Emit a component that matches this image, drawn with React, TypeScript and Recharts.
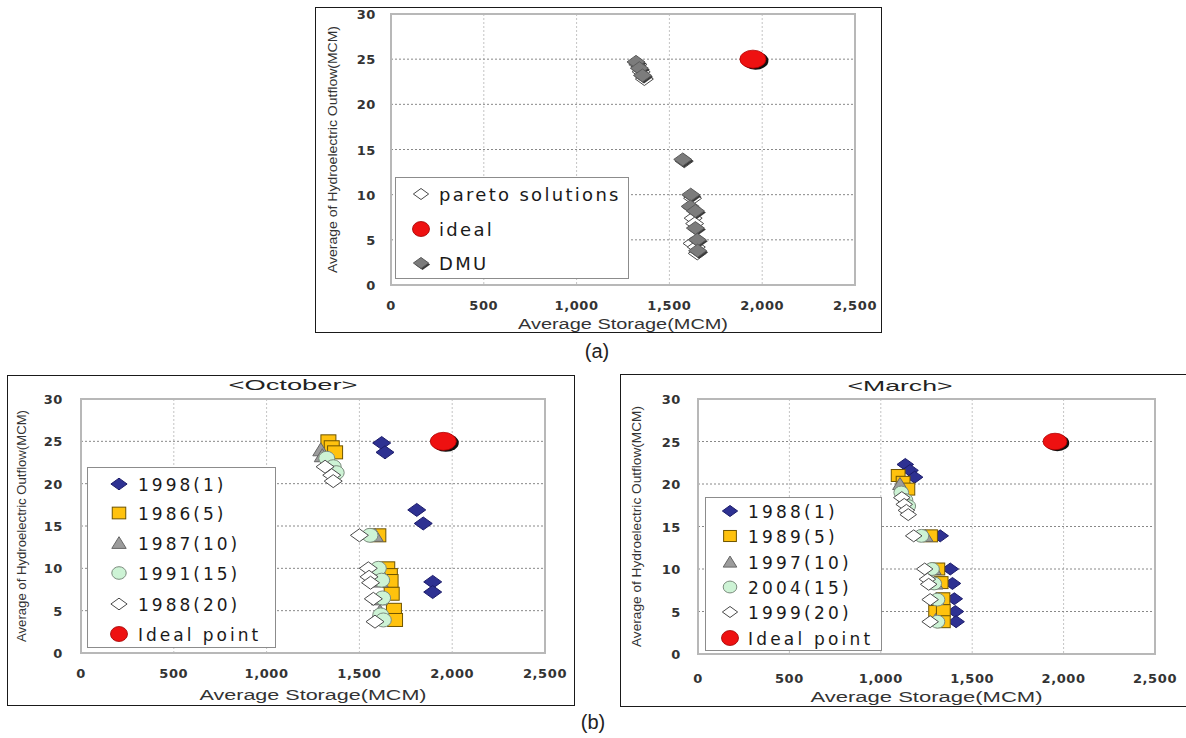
import React from 'react';
import { ScatterChart, Scatter, XAxis, YAxis, CartesianGrid, Legend, ReferenceArea, Label } from 'recharts';

// ---------- shared axis data ----------
const X_TICKS = [0, 500, 1000, 1500, 2000, 2500];
const Y_TICKS = [0, 5, 10, 15, 20, 25, 30];
const X_TITLE = 'Average Storage(MCM)';
const Y_TITLE = 'Average of Hydroelectric Outflow(MCM)';

// ---------- chart (a) ----------
const aLabels = ['pareto solutions', 'ideal', 'DMU'];
const aPareto = [
  { x: 1330, y: 24.4 }, { x: 1348, y: 23.6 }, { x: 1365, y: 22.8 }, { x: 1580, y: 13.7 },
  { x: 1625, y: 9.6 }, { x: 1628, y: 7.4 }, { x: 1636, y: 6.8 }, { x: 1622, y: 4.6 },
  { x: 1645, y: 4.2 }, { x: 1650, y: 3.5 },
];
const aIdeal = [{ x: 1950, y: 25 }];
const aDmu = [
  { x: 1320, y: 24.7 }, { x: 1338, y: 24.0 }, { x: 1355, y: 23.2 }, { x: 1572, y: 13.9 },
  { x: 1615, y: 10.0 }, { x: 1612, y: 8.7 }, { x: 1640, y: 8.2 }, { x: 1640, y: 6.3 },
  { x: 1650, y: 5.0 }, { x: 1652, y: 3.8 },
];

// ---------- chart (b) October ----------
const octLabels = ['1998(1)', '1986(5)', '1987(10)', '1991(15)', '1988(20)', 'Ideal point'];
const oct1998 = [
  { x: 1620, y: 24.8 }, { x: 1638, y: 23.7 }, { x: 1809, y: 16.9 }, { x: 1844, y: 15.3 },
  { x: 1895, y: 8.4 }, { x: 1895, y: 7.2 },
];
const oct1986 = [
  { x: 1333, y: 25.0 }, { x: 1351, y: 24.3 }, { x: 1369, y: 23.7 }, { x: 1602, y: 13.9 },
  { x: 1650, y: 10.0 }, { x: 1664, y: 9.2 }, { x: 1668, y: 8.5 }, { x: 1674, y: 7.0 },
  { x: 1686, y: 5.1 }, { x: 1692, y: 3.9 },
];
const oct1987 = [
  { x: 1292, y: 24.0 }, { x: 1300, y: 23.3 }, { x: 1585, y: 13.9 }, { x: 1605, y: 9.8 },
  { x: 1612, y: 8.5 }, { x: 1608, y: 6.4 }, { x: 1611, y: 4.9 }, { x: 1605, y: 4.3 },
];
const oct1991 = [
  { x: 1324, y: 23.0 }, { x: 1359, y: 22.0 }, { x: 1375, y: 21.3 }, { x: 1557, y: 13.9 },
  { x: 1602, y: 10.0 }, { x: 1620, y: 8.6 }, { x: 1625, y: 6.5 }, { x: 1615, y: 4.5 },
  { x: 1629, y: 3.9 },
];
const oct1988 = [
  { x: 1315, y: 22.0 }, { x: 1351, y: 21.0 }, { x: 1359, y: 20.3 }, { x: 1500, y: 13.9 },
  { x: 1548, y: 10.0 }, { x: 1552, y: 9.0 }, { x: 1560, y: 8.3 }, { x: 1575, y: 6.4 },
  { x: 1584, y: 3.7 },
];
const octIdeal = [{ x: 1952, y: 25 }];

// ---------- chart (b) March ----------
const marLabels = ['1988(1)', '1989(5)', '1997(10)', '2004(15)', '1999(20)', 'Ideal point'];
const mar1988 = [
  { x: 1134, y: 22.3 }, { x: 1160, y: 21.6 }, { x: 1185, y: 20.8 }, { x: 1325, y: 13.9 },
  { x: 1380, y: 10.0 }, { x: 1392, y: 8.3 }, { x: 1402, y: 6.5 }, { x: 1408, y: 5.0 },
  { x: 1412, y: 3.8 },
];
const mar1989 = [
  { x: 1095, y: 21.0 }, { x: 1122, y: 20.2 }, { x: 1148, y: 19.4 }, { x: 1272, y: 13.9 },
  { x: 1312, y: 10.0 }, { x: 1330, y: 8.4 }, { x: 1340, y: 6.5 }, { x: 1300, y: 5.0 },
  { x: 1342, y: 5.1 }, { x: 1342, y: 3.8 },
];
const mar1997 = [
  { x: 1105, y: 20.0 }, { x: 1245, y: 13.9 }, { x: 1290, y: 10.0 }, { x: 1300, y: 8.3 },
  { x: 1305, y: 6.5 }, { x: 1300, y: 4.0 },
];
const mar2004 = [
  { x: 1112, y: 19.0 }, { x: 1135, y: 18.1 }, { x: 1150, y: 17.4 }, { x: 1222, y: 13.9 },
  { x: 1280, y: 10.0 }, { x: 1292, y: 8.3 }, { x: 1310, y: 6.4 }, { x: 1310, y: 3.8 },
];
const mar1999 = [
  { x: 1115, y: 18.4 }, { x: 1128, y: 17.6 }, { x: 1140, y: 16.9 }, { x: 1150, y: 16.4 },
  { x: 1180, y: 13.9 }, { x: 1240, y: 10.0 }, { x: 1255, y: 8.8 }, { x: 1262, y: 8.2 },
  { x: 1270, y: 6.4 }, { x: 1270, y: 3.8 },
];
const marIdeal = [{ x: 1953, y: 25 }];

// ---------- markers ----------
type Kind = 'navy' | 'grayDiamond' | 'whiteDiamond' | 'square' | 'triangle' | 'green' | 'ideal';

const dia = (cx: number, cy: number, hw: number, hh: number) =>
  `${cx - hw},${cy} ${cx},${cy - hh} ${cx + hw},${cy} ${cx},${cy + hh}`;

function Marker({ kind, cx, cy, s = 1, legend = false }: { kind: Kind; cx: number; cy: number; s?: number; legend?: boolean }) {
  if (cx == null || cy == null) return null;
  switch (kind) {
    case 'navy':
      return <polygon points={dia(cx, cy, 9 * s, 6.5 * s)} fill="#2E3192" stroke="#1c1c6a" strokeWidth={1} />;
    case 'grayDiamond':
      return (
        <g>
          <polygon points={dia(cx + 1.5, cy + 1.5, 9 * s, 6.5 * s)} fill="#3a3a3a" />
          <polygon points={dia(cx, cy, 9 * s, 6.5 * s)} fill="#7c7c7c" stroke="#5a5a5a" strokeWidth={1} />
        </g>
      );
    case 'whiteDiamond':
      return <polygon points={dia(cx, cy, 9 * s, 6.5 * s)} fill="#ffffff" stroke="#4a4a4a" strokeWidth={1} />;
    case 'square':
      return <rect x={cx - 7.5 * s} y={cy - 6.5 * s} width={15 * s} height={13 * s} fill="#FFC20E" stroke="#6e5400" strokeWidth={1} />;
    case 'triangle':
      return (
        <polygon
          points={`${cx - 8 * s},${cy + 6 * s} ${cx},${cy - 7 * s} ${cx + 8 * s},${cy + 6 * s}`}
          fill="#9c9c9c"
          stroke="#666"
          strokeWidth={1}
        />
      );
    case 'green':
      return <ellipse cx={cx} cy={cy} rx={8 * s} ry={7 * s} fill="#CDF3D5" stroke="#7c8c7e" strokeWidth={1} />;
    case 'ideal':
      if (legend) {
        return <ellipse cx={cx} cy={cy} rx={8.5} ry={7.5} fill="#EE1111" stroke="#a00000" strokeWidth={0.8} />;
      }
      return (
        <g>
          <ellipse cx={cx + 2.5 * s} cy={cy + 1.5 * s} rx={13 * s} ry={9 * s} fill="#111" />
          <ellipse cx={cx} cy={cy} rx={13 * s} ry={9 * s} fill="#EE1111" stroke="#b00000" strokeWidth={0.8} />
        </g>
      );
  }
  return null;
}

const shapeOf = (kind: Kind, s = 1) => (p: any) => <Marker kind={kind} cx={p.cx} cy={p.cy} s={s} />;

// ---------- axis helpers ----------
const fmtX = (v: number) => (v >= 1000 ? `${Math.floor(v / 1000)},${String(v % 1000).padStart(3, '0')}` : String(v));
const tickStyle: React.CSSProperties = {
  fontFamily: 'DejaVu Sans', fontSize: 13, fontWeight: 'bold', fill: '#333', letterSpacing: '0.6px',
};
const titleStyle: React.CSSProperties = { fontFamily: 'Liberation Sans', fontSize: 14, fill: '#333' };

const makeXTick = (dy: number) => (p: any) => (
  <text x={p.x} y={p.y} dy={dy} textAnchor="middle" style={tickStyle}>
    {fmtX(p.payload.value)}
  </text>
);
const makeYTick = (gap: number) => (p: any) => (
  <text x={p.x - gap} y={p.y} dy={5} textAnchor="end" style={tickStyle}>
    {p.payload.value}
  </text>
);

type LegendCfg = {
  left: number; top: number; width: number; height: number;
  rowY: number[]; symX: number; textX: number; fontSize: number; ls: number; scale: number;
};

const renderLegend = (labels: string[], kinds: Kind[], c: LegendCfg) => () => (
  <div
    style={{
      position: 'relative', width: c.width, height: c.height, boxSizing: 'border-box',
      border: '1.5px solid #8c8c8c', background: '#fff',
    }}
  >
    {labels.map((lab, i) => (
      <React.Fragment key={lab}>
        <svg style={{ position: 'absolute', left: c.symX - 14, top: c.rowY[i] - 11 }} width={28} height={22}>
          <Marker kind={kinds[i]} cx={13} cy={10} s={c.scale} legend />
        </svg>
        <span
          style={{
            position: 'absolute', left: c.textX, top: c.rowY[i], transform: 'translateY(-50%)',
            fontFamily: 'DejaVu Sans', fontSize: c.fontSize, letterSpacing: c.ls, lineHeight: 1,
            whiteSpace: 'nowrap', color: '#1a1a1a',
          }}
        >
          {lab}
        </span>
      </React.Fragment>
    ))}
  </div>
);

type Series = { name: string; data: { x: number; y: number }[]; kind: Kind };

type PanelCfg = {
  left: number; top: number; width: number; height: number;
  margin: { top: number; right: number; bottom: number; left: number };
  yW: number; xH: number; xTickDy: number; yTickGap: number;
  xTitleY: number; xTitleLen: number; yTitleX: number; yTitleLen: number;
  markerScale: number;
  legend: LegendCfg;
};

function Panel({ cfg, series, labels }: { cfg: PanelCfg; series: Series[]; labels: string[] }) {
  return (
    <>
      <div
        style={{
          position: 'absolute', left: cfg.left, top: cfg.top, width: cfg.width, height: cfg.height,
          boxSizing: 'border-box', border: '1.5px solid #1a1a1a', background: '#fff',
        }}
      />
      <div style={{ position: 'absolute', left: cfg.left, top: cfg.top }}>
        <ScatterChart width={cfg.width} height={cfg.height} margin={cfg.margin}>
          <CartesianGrid horizontal={false} stroke="#c4c4c4" strokeDasharray="2 2" />
          <CartesianGrid vertical={false} stroke="#888" strokeDasharray="2 2" />
          <ReferenceArea x1={0} x2={2500} y1={0} y2={30} fill="none" stroke="#b8b8b8" strokeWidth={2} />
          <XAxis
            type="number" dataKey="x" domain={[0, 2500]} ticks={X_TICKS} height={cfg.xH}
            axisLine={false} tickLine={false} tickSize={0} tickMargin={0} interval={0}
            tick={makeXTick(cfg.xTickDy)}
          >
            <Label
              content={(p: any) => {
                const vb = p.viewBox || {};
                return (
                  <text
                    x={vb.x + vb.width / 2} y={cfg.xTitleY} textAnchor="middle"
                    textLength={cfg.xTitleLen} lengthAdjust="spacingAndGlyphs" style={titleStyle}
                  >
                    {X_TITLE}
                  </text>
                );
              }}
            />
          </XAxis>
          <YAxis
            type="number" dataKey="y" domain={[0, 30]} ticks={Y_TICKS} width={cfg.yW}
            axisLine={false} tickLine={false} tickSize={0} tickMargin={0} interval={0}
            tick={makeYTick(cfg.yTickGap)}
          >
            <Label
              content={(p: any) => {
                const vb = p.viewBox || {};
                const cy = vb.y + vb.height / 2;
                return (
                  <text
                    x={cfg.yTitleX} y={cy} dy="0.35em" textAnchor="middle"
                    transform={`rotate(-90 ${cfg.yTitleX} ${cy})`}
                    textLength={cfg.yTitleLen} lengthAdjust="spacingAndGlyphs"
                    style={{ ...titleStyle, fontSize: 13 }}
                  >
                    {Y_TITLE}
                  </text>
                );
              }}
            />
          </YAxis>
          <Legend
            layout="vertical" align="center" verticalAlign="middle"
            wrapperStyle={{ left: cfg.legend.left, top: cfg.legend.top, width: cfg.legend.width, height: cfg.legend.height }}
            content={renderLegend(labels, series.map((s) => s.kind), cfg.legend)}
          />
          {series.map((s) => (
            <Scatter
              key={s.name} name={s.name} data={s.data} fill="#000"
              shape={shapeOf(s.kind, cfg.markerScale)} isAnimationActive={false}
            />
          ))}
        </ScatterChart>
      </div>
    </>
  );
}

const cfgA: PanelCfg = {
  left: 315, top: 7, width: 567, height: 326,
  margin: { top: 7, right: 27, bottom: 0, left: 0 },
  yW: 76, xH: 48, xTickDy: 25, yTickGap: 15,
  xTitleY: 322, xTitleLen: 210, yTitleX: 17, yTitleLen: 247, markerScale: 1,
  legend: {
    left: 80, top: 170, width: 234, height: 102,
    rowY: [17, 52, 86], symX: 26, textX: 43, fontSize: 18, ls: 2.3, scale: 0.85,
  },
};

const cfgOct: PanelCfg = {
  left: 7, top: 375, width: 568, height: 331,
  margin: { top: 24, right: 30, bottom: 0, left: 0 },
  yW: 74, xH: 53, xTickDy: 25, yTickGap: 18,
  xTitleY: 325, xTitleLen: 227, yTitleX: 14, yTitleLen: 232, markerScale: 1,
  legend: {
    left: 80, top: 92, width: 189, height: 181,
    rowY: [17, 46, 76, 106, 137, 167], symX: 32, textX: 50, fontSize: 17, ls: 3, scale: 0.9,
  },
};

const cfgMar: PanelCfg = {
  left: 620, top: 374, width: 568, height: 333,
  margin: { top: 25, right: 33, bottom: 0, left: 0 },
  yW: 78, xH: 53, xTickDy: 29, yTickGap: 17,
  xTitleY: 328, xTitleLen: 232, yTitleX: 16, yTitleLen: 241, markerScale: 0.92,
  legend: {
    left: 85, top: 123, width: 177, height: 154,
    rowY: [14, 39, 65, 90, 115, 141], symX: 25, textX: 42, fontSize: 17, ls: 3.2, scale: 0.85,
  },
};

const seriesA: Series[] = [
  { name: aLabels[0], data: aPareto, kind: 'whiteDiamond' },
  { name: aLabels[1], data: aIdeal, kind: 'ideal' },
  { name: aLabels[2], data: aDmu, kind: 'grayDiamond' },
];
const seriesOct: Series[] = [
  { name: octLabels[0], data: oct1998, kind: 'navy' },
  { name: octLabels[1], data: oct1986, kind: 'square' },
  { name: octLabels[2], data: oct1987, kind: 'triangle' },
  { name: octLabels[3], data: oct1991, kind: 'green' },
  { name: octLabels[4], data: oct1988, kind: 'whiteDiamond' },
  { name: octLabels[5], data: octIdeal, kind: 'ideal' },
];
const seriesMar: Series[] = [
  { name: marLabels[0], data: mar1988, kind: 'navy' },
  { name: marLabels[1], data: mar1989, kind: 'square' },
  { name: marLabels[2], data: mar1997, kind: 'triangle' },
  { name: marLabels[3], data: mar2004, kind: 'green' },
  { name: marLabels[4], data: mar1999, kind: 'whiteDiamond' },
  { name: marLabels[5], data: marIdeal, kind: 'ideal' },
];

function TextAt({ x, y, text, size, len, family = 'Liberation Sans' }: { x: number; y: number; text: string; size: number; len?: number; family?: string }) {
  return (
    <svg style={{ position: 'absolute', left: 0, top: 0, overflow: 'visible' }} width={1} height={1}>
      <text
        x={x} y={y} dy="0.35em" textAnchor="middle" textLength={len}
        lengthAdjust={len ? 'spacingAndGlyphs' : undefined}
        style={{ fontFamily: family, fontSize: size, fill: '#222' }}
      >
        {text}
      </text>
    </svg>
  );
}

export default function App() {
  return (
    <div style={{ position: 'absolute', left: 0, top: 0, width: 1186, height: 738, overflow: 'hidden', background: '#fff' }}>
      <Panel cfg={cfgA} series={seriesA} labels={aLabels} />
      <Panel cfg={cfgOct} series={seriesOct} labels={octLabels} />
      <Panel cfg={cfgMar} series={seriesMar} labels={marLabels} />
      <TextAt x={293} y={385} text="<October>" size={15} len={129} />
      <TextAt x={900} y={386} text="<March>" size={15} len={105} />
      <TextAt x={597} y={351} text="(a)" size={20} />
      <TextAt x={593} y={722} text="(b)" size={20} />
    </div>
  );
}
